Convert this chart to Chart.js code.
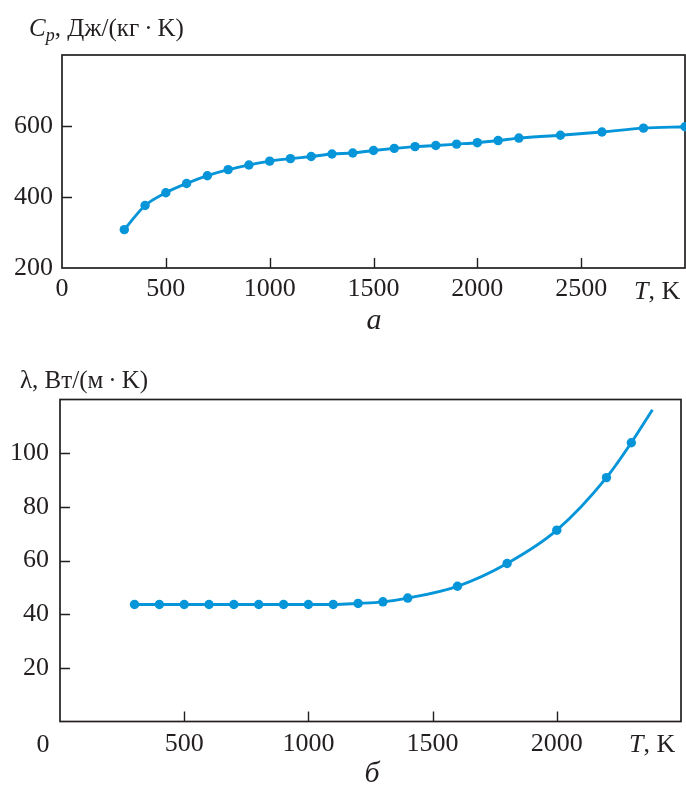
<!DOCTYPE html>
<html>
<head>
<meta charset="utf-8">
<script src="https://cdn.jsdelivr.net/npm/chart.js@4.4.1/dist/chart.umd.min.js"></script>
<style>
  html, body { margin: 0; padding: 0; background: #fff; }
  #wrap { position: relative; width: 686px; height: 785px; }
  .box { position: absolute; left: 0; width: 686px; }
  #topBox { top: 0; height: 340px; }
  #botBox { top: 340px; height: 445px; }
</style>
</head>
<body>
<div id="wrap">
  <div class="box" id="topBox"><canvas id="cpChart"></canvas></div>
  <div class="box" id="botBox"><canvas id="lamChart"></canvas></div>
</div>
<script>
// heat capacity, J/(kg K)
const cpT = [300, 400, 500, 600, 700, 800, 900, 1000, 1100, 1200, 1300, 1400, 1500,
  1600, 1700, 1800, 1900, 2000, 2100, 2200, 2400, 2600, 2800, 3000];
const cpVal = [308, 376, 412, 438, 460, 477, 490, 501, 508, 514, 521, 524, 531,
  537, 542, 545, 549, 553, 559, 566, 574, 583, 594, 598];

// thermal conductivity, W/(m K); last pair is the end of the fitted curve (no marker)
const lamT = [300, 400, 500, 600, 700, 800, 900, 1000, 1100, 1200, 1300, 1400,
  1600, 1800, 2000, 2200, 2300, 2385];
const lamVal = [43.6, 43.6, 43.6, 43.6, 43.6, 43.6, 43.6, 43.6, 43.6, 44.0, 44.6, 46.0,
  50.4, 58.9, 71.3, 90.9, 103.9, 116.2];
const lamMarked = lamT.length - 1;

const cpXTicks = [500, 1000, 1500, 2000, 2500];
const cpYTicks = [400, 600];
const lamXTicks = [500, 1000, 1500, 2000];
const lamYTicks = [20, 40, 60, 80, 100];

const ink = '#231f20';
const blue = '#0595d8';
const serif = '"Liberation Serif", "Times New Roman", serif';

function font(size, italic){
  return (italic ? 'italic ' : '') + size + 'px ' + serif;
}

// draw a row of text pieces with different fonts, left to right
function drawRuns(ctx, x, y, runs){
  let cx = x;
  runs.forEach(r => {
    ctx.font = r.font;
    ctx.fillText(r.t, cx, y + (r.dy || 0));
    cx += ctx.measureText(r.t).width;
  });
  return cx;
}
function runsWidth(ctx, runs){
  let w = 0;
  runs.forEach(r => { ctx.font = r.font; w += ctx.measureText(r.t).width; });
  return w;
}

// box round the plot area and tick marks pointing inward
const framePlugin = {
  id: 'frame',
  beforeDatasetsDraw(chart, args, opts){
    const {ctx, chartArea: a} = chart;
    const x = chart.scales.x, y = chart.scales.y;
    ctx.save();
    ctx.strokeStyle = ink;
    ctx.lineWidth = 1.7;
    ctx.strokeRect(a.left, a.top, a.right - a.left, a.bottom - a.top);
    ctx.lineWidth = 1.4;
    ctx.beginPath();
    opts.xTicks.forEach(v => {
      const px = Math.round(x.getPixelForValue(v)) + 0.5;
      ctx.moveTo(px, a.bottom); ctx.lineTo(px, a.bottom - 10);
    });
    opts.yTicks.forEach(v => {
      const py = Math.round(y.getPixelForValue(v)) + 0.5;
      ctx.moveTo(a.left, py); ctx.lineTo(a.left + 10, py);
    });
    ctx.stroke();
    ctx.restore();
  },
  afterDraw(chart, args, opts){
    const ctx = chart.ctx;
    ctx.save();
    ctx.fillStyle = ink;
    ctx.textBaseline = 'alphabetic';
    ctx.textAlign = 'left';
    opts.texts.forEach(t => {
      const w = runsWidth(ctx, t.runs);
      const x0 = t.align === 'center' ? t.x - w / 2 : t.x;
      drawRuns(ctx, x0, t.y, t.runs);
    });
    ctx.restore();
  }
};

function axes(xMin, xMax, yMin, yMax, xStep, yStep, xHide, yHide, sizes){
  const tickFont = { family: serif, size: 26 };
  return {
    x: {
      type: 'linear', min: xMin, max: xMax,
      grid: { display: false, drawTicks: false },
      border: { display: false },
      ticks: {
        stepSize: xStep, font: tickFont, color: ink, padding: sizes.xPad,
        maxRotation: 0, autoSkip: false,
        callback: v => xHide.includes(v) ? '' : String(v)
      },
      afterFit: s => { s.height = sizes.xH; s.paddingLeft = 0; s.paddingRight = 0; }
    },
    y: {
      type: 'linear', min: yMin, max: yMax,
      grid: { display: false, drawTicks: false },
      border: { display: false },
      ticks: {
        stepSize: yStep, font: tickFont, color: ink, padding: sizes.yPad,
        callback: v => yHide.includes(v) ? '' : String(v)
      },
      afterFit: s => { s.width = sizes.yW; s.paddingTop = 0; s.paddingBottom = 0; }
    }
  };
}

function makeChart(id, points, radii, scales, padding, frameOpts){
  return new Chart(document.getElementById(id), {
    type: 'line',
    data: {
      datasets: [{
        data: points,
        borderColor: blue,
        backgroundColor: blue,
        borderWidth: 2.9,
        pointRadius: radii,
        pointHoverRadius: radii,
        pointBorderWidth: 0,
        cubicInterpolationMode: 'monotone',
        clip: 6
      }]
    },
    options: {
      responsive: true,
      maintainAspectRatio: false,
      animation: false,
      events: [],
      layout: { padding, autoPadding: false },
      scales,
      plugins: {
        legend: { display: false },
        tooltip: { enabled: false },
        frame: frameOpts
      }
    },
    plugins: [framePlugin]
  });
}

const cpPoints = cpT.map((t, i) => ({ x: t, y: cpVal[i] }));
const lamPoints = lamT.map((t, i) => ({ x: t, y: lamVal[i] }));
const lamRadii = lamT.map((t, i) => i < lamMarked ? 4.7 : 0);

makeChart('cpChart', cpPoints, 4.7,
  axes(0, 3000, 200, 800, 500, 200, [3000], [800], { xH: 72, yW: 62, xPad: 6, yPad: 9 }),
  { top: 55, right: 1, left: 0, bottom: 0 },
  {
    xTicks: cpXTicks, yTicks: cpYTicks,
    texts: [
      { x: 29, y: 36, runs: [
        { t: 'C', font: font(25, true) },
        { t: 'p', font: font(18, true), dy: 5 },
        { t: ', Дж/(кг\u2009·\u2009K)', font: font(25) }
      ]},
      { x: 634, y: 299, runs: [
        { t: 'T', font: font(26, true) },
        { t: ', K', font: font(26) }
      ]},
      { x: 374, y: 329, align: 'center', runs: [{ t: 'а', font: font(30, true) }] }
    ]
  });

makeChart('lamChart', lamPoints, lamRadii,
  axes(0, 2500, 0, 120, 500, 20, [0, 2500], [0, 120], { xH: 63.5, yW: 60, xPad: 7, yPad: 11 }),
  { top: 59.5, right: 5, left: 0, bottom: 0 },
  {
    xTicks: lamXTicks, yTicks: lamYTicks,
    texts: [
      { x: 20, y: 48, runs: [
        { t: 'λ', font: font(25) },
        { t: ', Вт/(м\u2009·\u2009K)', font: font(25) }
      ]},
      { x: 43, y: 412, align: 'center', runs: [{ t: '0', font: font(26) }] },
      { x: 629, y: 412, runs: [
        { t: 'T', font: font(26, true) },
        { t: ', K', font: font(26) }
      ]},
      { x: 372, y: 442, align: 'center', runs: [{ t: 'б', font: font(30, true) }] }
    ]
  });
</script>
</body>
</html>
